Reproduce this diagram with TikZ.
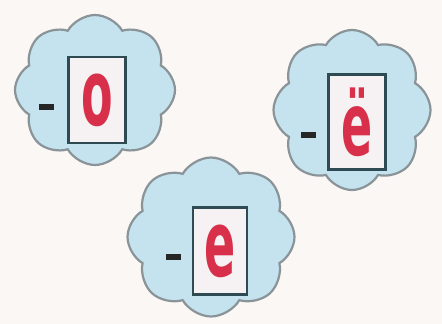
\documentclass[tikz,border=0pt]{standalone}
\usepackage{fontspec}
\setmainfont{DejaVu Sans}
\usetikzlibrary{shapes.symbols, positioning}
\definecolor{bgpaper}{HTML}{FBF7F5}
\definecolor{cloudblue}{HTML}{C4E3EE}
\definecolor{cloudline}{HTML}{8A9498}
\definecolor{boxline}{HTML}{2E4A52}
\definecolor{boxfill}{HTML}{F6F1F2}
\definecolor{letterred}{HTML}{D8304A}

\begin{document}
\begin{tikzpicture}[
			x=1pt, y=-1pt,
			puff/.style={cloud, cloud puffs=8, cloud puff arc=120, aspect=1,
				draw=cloudline, line width=2.2pt, fill=cloudblue, inner sep=0pt},
			letterbox/.style={rectangle, draw=boxline, line width=2.6pt, fill=boxfill,
				inner sep=0pt, text=letterred, font=\fontsize{46}{46}\selectfont},
			dashbar/.style={rectangle, fill=black!85, minimum width=15pt,
				minimum height=6pt, inner sep=0pt}
			]
			\fill[bgpaper] (0,0) rectangle (442,324);
			
			\node[puff, minimum width=160pt, minimum height=150pt] (cloudO) at (95,90) {};
			\node[puff, minimum width=157pt, minimum height=160pt] (cloudYo) at (352,110) {};
			\node[puff, minimum width=167pt, minimum height=159pt] (cloudE) at (211,237) {};
			
			\node[letterbox, minimum width=57pt, minimum height=86pt] (boxO) at (97,100)
				{\scalebox{1}[2]{\bfseries о}};
			\node[letterbox, minimum width=57pt, minimum height=95pt] (boxYo) at (357,122)
				{\scalebox{1}[1.9]{\bfseries ё}};
			\node[letterbox, minimum width=54pt, minimum height=87pt] (boxE) at (220,251)
				{\scalebox{1}[2]{\bfseries е}};
			
			\node[dashbar, left=13pt of boxO, yshift=-7pt] (dashO) {};
			\node[dashbar, left=11pt of boxYo, yshift=-13pt] (dashYo) {};
			\node[dashbar, left=11pt of boxE, yshift=-6pt] (dashE) {};
		\end{tikzpicture}
\end{document}
